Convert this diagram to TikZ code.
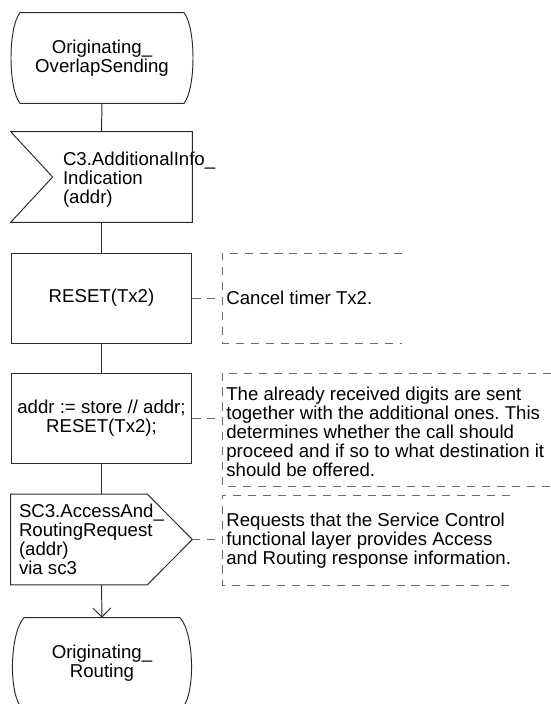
\documentclass[tikz,border=0pt]{standalone}
\usepackage{fontspec}
\setmainfont{Liberation Sans}
\usetikzlibrary{positioning, arrows.meta, calc}
\definecolor{trazo}{HTML}{2B2B2B}
\definecolor{apagado}{HTML}{6A6A6A}
\frenchspacing

\begin{document}
\begin{tikzpicture}[x=0.02cm, y=-0.02cm, font=\fontsize{10.6}{10.9}\selectfont,
			linea/.style={draw=trazo, line width=0.55pt},
			marco/.style={minimum width=3.62cm, minimum height=1.8cm, inner sep=0pt, align=center},
			tarea/.style={marco, linea},
			nota/.style={draw=apagado, line width=0.55pt, dash pattern=on 4.6pt off 3.9pt},
			texto/.style={anchor=west, align=left, inner sep=0pt}]
			\useasboundingbox (0,0) rectangle (551,704);
			\clip (0,0) rectangle (551,704);
			% simbolos del proceso
			\node[marco] (inicio) at (102,58) {Originating\_\\OverlapSending};
			\node[marco] (entrada) at (101.5,177) {};
			\node[texto] (entradatxt) at ($(entrada.west)+(52,3)$) {C3.AdditionalInfo\_\\Indication\\(addr)};
			\node[tarea] (reset) at (101.5,298) {RESET(Tx2)};
			\node[tarea] (guardar) at (101.5,418.5) {addr := store // addr;\\RESET(Tx2);};
			\node[marco] (salida) at (101.5,539.5) {};
			\node[texto] (salidatxt) at ($(salida.west)+(8,0)$) {SC3.AccessAnd\_\\RoutingRequest\\(addr)\\via sc3};
			\node[marco] (fin) at (102,663) {Originating\_\\Routing};
			% contornos
			\draw[linea] ($(inicio.north)+(-82,0)$) -- ($(inicio.north)+(82,0)$)
				.. controls +(12,15) and +(12,-15) .. ($(inicio.south)+(82,0)$) -- ($(inicio.south)+(-82,0)$)
				.. controls +(-12,-15) and +(-12,15) .. ($(inicio.north)+(-82,0)$) -- cycle;
			\draw[linea] (entrada.north west) -- (entrada.north east) -- (entrada.south east)
				-- (entrada.south west) -- ($(entrada.west)+(42,0)$) -- cycle;
			\draw[linea] (salida.north west) -- ($(salida.north east)+(-45,0)$) -- (salida.east)
				-- ($(salida.south east)+(-45,0)$) -- (salida.south west) -- cycle;
			\draw[linea] ($(fin.north)+(-78,0)$) -- ($(fin.north)+(78,0)$)
				.. controls +(14,15) and +(14,-15) .. ($(fin.south)+(80,0)$) -- ($(fin.south)+(-80,0)$)
				.. controls +(-14,-15) and +(-14,15) .. ($(fin.north)+(-78,0)$) -- cycle;
			% flujo
			\draw[linea] (inicio.south) -- (entrada.north);
			\draw[linea] (entrada.south) -- (reset.north);
			\draw[linea] (reset.south) -- (guardar.north);
			\draw[linea] (guardar.south) -- (salida.north);
			\draw[linea, -{Straight Barb[length=0.18cm, width=0.36cm]}] (salida.south) -- (fin.north);
			% comentarios
			\coordinate (k1) at (222,298);
			\coordinate (k2) at (222,418.5);
			\coordinate (k3) at (222,539.5);
			\draw[nota] (402,253) -- (222,253) -- (222,343) -- (402,343);
			\draw[nota] (551,373) -- (222,373) -- (222,486) -- (551,486);
			\draw[nota] (510,495) -- (222,495) -- (222,585) -- (510,585);
			\node[texto] (nota1) at (226,298) {Cancel timer Tx2.};
			\node[texto] (nota2) at (226,432) {The already received digits are sent\\together with the additional ones. This\\determines whether the call should\\proceed and if so to what destination it\\should be offered.};
			\node[texto] (nota3) at (226,541) {Requests that the Service Control\\functional layer provides Access\\and Routing response information.};
			\draw[nota] (reset.east) -- (k1);
			\draw[nota] (guardar.east) -- (k2);
			\draw[nota] (salida.east) -- (k3);
		\end{tikzpicture}
\end{document}
